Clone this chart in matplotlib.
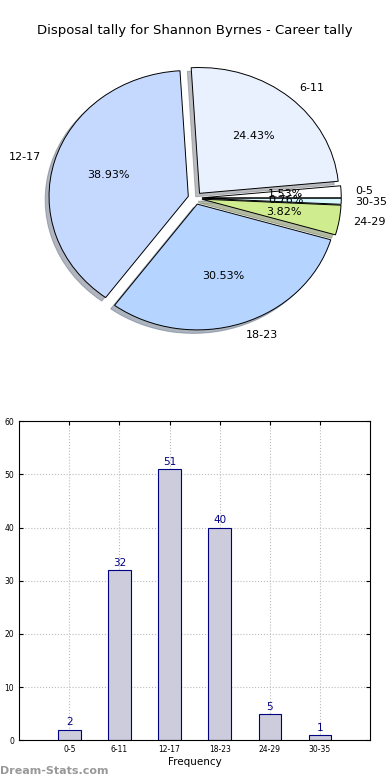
import numpy as np
import matplotlib
matplotlib.use("Agg")
import matplotlib.pyplot as plt

# Data
categories = ["0-5", "6-11", "12-17", "18-23", "24-29", "30-35"]
counts = [2, 32, 51, 40, 5, 1]
pie_colors = ["#ffffff", "#e9f1ff", "#c5d9ff", "#b5d4ff", "#cfec8e", "#d8f8ff"]
title = "Disposal tally for Shannon Byrnes - Career tally"

fig = plt.figure(figsize=(3.9, 7.8), dpi=100)

# =============================================================================
# Pie (slightly stretched horizontally, like the original)
# =============================================================================
ax1 = fig.add_axes([0.0, 0.496, 1.0, 0.5])
wedges, texts, autotexts = ax1.pie(
    counts, labels=categories, colors=pie_colors, autopct="%.2f%%",
    explode=[0.05] * len(counts), shadow={"ox": -0.02, "oy": -0.02, "shade": 0.5},
    startangle=0,
    wedgeprops=dict(edgecolor="black", linewidth=0.7),
    textprops=dict(fontsize=8),
)
ax1.set_aspect("auto")
ax1.set_xlim(-1.40, 1.40)
ax1.set_ylim(-1.55, 1.55)
fig.text(0.5, 0.961, title, ha="center", va="center", fontsize=9.5)

# =============================================================================
# Bars
# =============================================================================
ax2 = fig.add_axes([0.049, 0.051, 0.9, 0.409])
x = np.arange(len(categories))
ax2.bar(x, counts, width=0.45, color="#ccccdd", edgecolor="navy", linewidth=0.8, zorder=2)
for xi, c in zip(x, counts):
    ax2.text(xi, c + 0.4, str(c), ha="center", va="bottom", color="navy", fontsize=7.5)
ax2.set_xlim(-1, 6)
ax2.set_ylim(0, 60)
ax2.set_xticks(x)
ax2.set_xticklabels(categories)
ax2.set_yticks(range(0, 61, 10))
ax2.tick_params(labelsize=5.5, direction="in", top=True, right=True, length=3)
ax2.grid(True, linestyle=":", color="#bbbbbb", linewidth=0.8, zorder=0)
ax2.set_axisbelow(True)
ax2.set_xlabel("Frequency", fontsize=7.5, labelpad=2)

fig.text(0.0, 0.012, "Dream-Stats.com", color="#999999", fontsize=8, fontweight="bold",
         ha="left", va="center")

fig.savefig("out.png", dpi=100)
